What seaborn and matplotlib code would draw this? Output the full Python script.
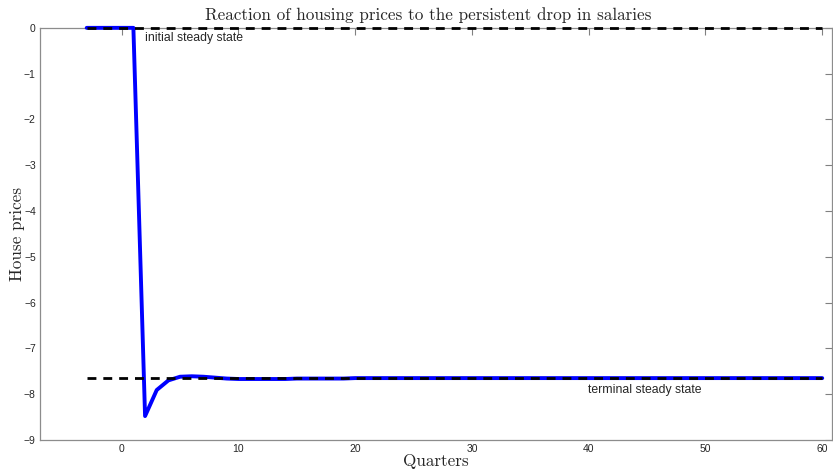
import matplotlib
matplotlib.use("Agg")
import matplotlib.pyplot as plt
import seaborn as sns
import pandas as pd

# Impulse response of house prices (quarters relative to the shock)
quarters = list(range(-3, 61))
house_prices = [
    0.0, 0.0, 0.0, 0.0, 0.0,
    -8.48, -7.91, -7.70, -7.62, -7.61, -7.62, -7.64, -7.66, -7.67, -7.67,
    -7.67, -7.67, -7.67, -7.66, -7.66, -7.66, -7.66, -7.66, -7.65, -7.65,
    -7.65, -7.65, -7.65, -7.65, -7.65, -7.65, -7.65, -7.65, -7.65, -7.65,
    -7.65, -7.65, -7.65, -7.65, -7.65, -7.65, -7.65, -7.65, -7.65, -7.65,
    -7.65, -7.65, -7.65, -7.65, -7.65, -7.65, -7.65, -7.65, -7.65, -7.65,
    -7.65, -7.65, -7.65, -7.65, -7.65, -7.65, -7.65, -7.65, -7.65,
]
initial_ss = 0.0
terminal_ss = -7.65
x_ticks = [0, 10, 20, 30, 40, 50, 60]
y_ticks = [-9, -8, -7, -6, -5, -4, -3, -2, -1, 0]

df = pd.DataFrame({"Quarters": quarters, "House prices": house_prices})

sns.set_style("white")
plt.rcParams["font.family"] = ["Liberation Sans", "DejaVu Sans"]

fig = plt.figure(figsize=(8.33, 4.72), dpi=100)
ax = fig.add_axes([0.048, 0.068, 0.951, 0.873])

sns.lineplot(data=df, x="Quarters", y="House prices", ax=ax,
             color="#0000ff", linewidth=2.8, zorder=2, clip_on=False)
dash = (0, (3.2, 2.5))
ax.plot([quarters[0], quarters[-1]], [initial_ss, initial_ss],
        color="black", linestyle=dash, linewidth=2.0, zorder=4, clip_on=False)
ax.plot([quarters[0], quarters[-1]], [terminal_ss, terminal_ss],
        color="black", linestyle=dash, linewidth=2.0, zorder=4, clip_on=False)

ax.text(2.0, -0.22, "initial steady state", fontsize=8.8, va="center", ha="left")
ax.text(39.9, -7.92, "terminal steady state", fontsize=8.8, va="center", ha="left")

ax.set_xlim(-7, 60.85)
ax.set_ylim(-9, 0)
ax.set_xticks(x_ticks)
ax.set_yticks(y_ticks)
ax.tick_params(direction="in", length=5, width=0.8, color="#808080",
               labelcolor="#262626", labelsize=7.5, top=True, right=True,
               pad=3)
for s in ax.spines.values():
    s.set_color("#8c8c8c")
    s.set_linewidth(0.9)
    s.set_zorder(1)

serif = ["cmr10", "DejaVu Serif"]
ax.set_title("Reaction of housing prices to the persistent drop in salaries",
             family=serif, fontsize=12.3, pad=6, x=0.49)
ax.set_xlabel("Quarters", family=serif, fontsize=12.3, labelpad=0)
ax.set_ylabel("House prices", family=serif, fontsize=12.3, labelpad=-1)

fig.savefig("out.png", dpi=100)
